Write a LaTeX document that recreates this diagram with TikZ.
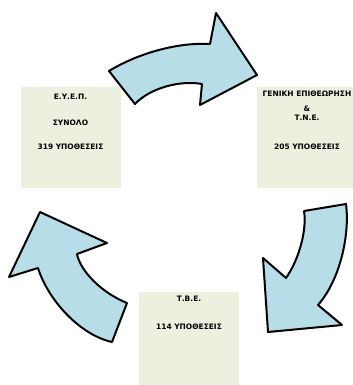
\documentclass[tikz,border=0pt]{standalone}
\usepackage{fontspec}
\setmainfont{DejaVu Sans}
\definecolor{arrowfill}{HTML}{B7DEE8}
\definecolor{boxfill}{HTML}{EBF1DE}
\tikzset{
  box/.style={fill=boxfill, draw=none, inner sep=0pt},
  lbl/.style={font=\bfseries\fontsize{7.5}{8.5}\selectfont, inner sep=0pt, anchor=center},
  arrowshape/.style={fill=arrowfill, draw=black, line width=2pt, line join=round}
}
\begin{document}
\begin{tikzpicture}[x=1bp,y=-1bp]
\useasboundingbox (0,0) rectangle (353,385);
% boxes
\node[box, minimum width=100bp, minimum height=101bp] (b1) at (71,137.5) {};
\node[box, minimum width=100bp, minimum height=101bp] (b2) at (307,137.5) {};
\node[box, minimum width=100bp, minimum height=93bp] (b3) at (189,338.5) {};
% texts
\node[lbl] (t11) at (70.5,96.5) {Ε.Υ.Ε.Π.};
\node[lbl] (t12) at (70.5,122.5) {ΣΥΝΟΛΟ};
\node[lbl] (t13) at (70.5,146.7) {319 ΥΠΟΘΕΣΕΙΣ};
\node[lbl] (t21) at (307,93.5) {ΓΕΝΙΚΗ ΕΠΙΘΕΩΡΗΣΗ};
\node[lbl] (t22) at (307,109) {\&};
\node[lbl] (t23) at (307,118) {Τ.Ν.Ε.};
\node[lbl] (t24) at (307,146.5) {205 ΥΠΟΘΕΣΕΙΣ};
\node[lbl] (t31) at (189,299) {Τ.Β.Ε.};
\node[lbl] (t32) at (189,326.7) {114 ΥΠΟΘΕΣΕΙΣ};
% arrows
\draw[arrowshape] (109,71) .. controls (135,55) and (175,42) .. (210,44)
  -- (216,13) -- (257,75) -- (200,105) -- (202,84)
  .. controls (180,80) and (150,88) .. (135,104) -- cycle;
\draw[arrowshape] (304,211) -- (346,204)
  .. controls (350,235) and (340,280) .. (318,305)
  -- (342,325) -- (268,332) -- (263,258) -- (286,278)
  .. controls (300,258) and (307,228) .. (304,211) -- cycle;
\draw[arrowshape] (112,342) -- (127,303)
  .. controls (100,292) and (80,270) .. (77,254)
  -- (107,243) -- (40,212) -- (9,277) -- (38,268)
  .. controls (48,300) and (80,335) .. (112,342) -- cycle;
\end{tikzpicture}
\end{document}
